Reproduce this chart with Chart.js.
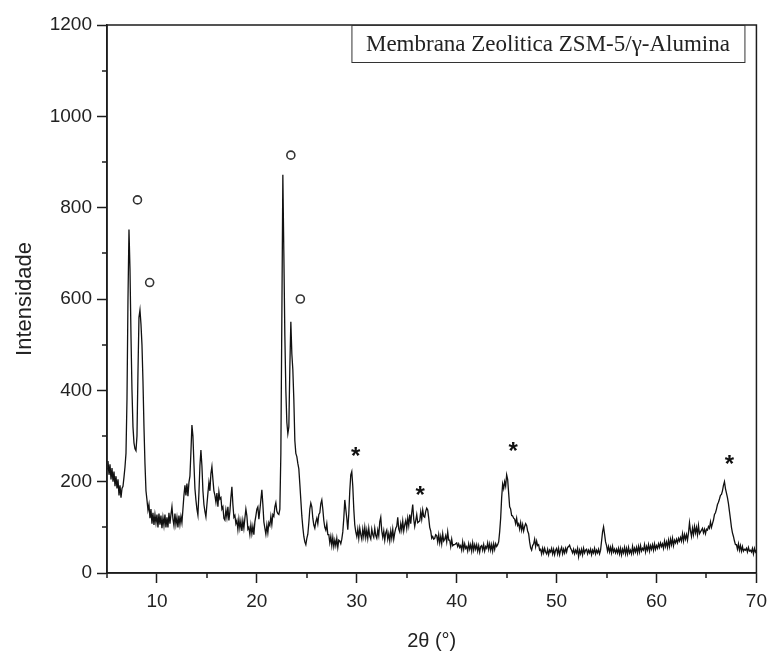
<!DOCTYPE html>
<html><head><meta charset="utf-8">
<script src="https://cdn.jsdelivr.net/npm/chart.js@4.4.1/dist/chart.umd.min.js"></script>
<style>html,body{margin:0;padding:0;background:#fff}#wrap{width:774px;height:658px}</style>
</head><body><div id="wrap"><canvas id="c" width="774" height="658"></canvas></div>
<script>
// 2θ sampling grid (degrees)
const thetaStart = 5.0;
const thetaStep = 0.1;
// Intensity, one row per degree (x.0 ... x.9)
const intensity = [
 228,245,215,238,205,230,200,222,190,212, // 5
 185,205,170,192,165,185,190,210,232,262, // 6
 380,600,752,665,520,400,320,285,272,268, // 7
 300,440,560,576,545,500,420,320,240,180, // 8
 160,138,150,120,140,108,132,105,128,110, // 9
 128,100,130,106,126,98,122,104,128,100,  // 10
 122,100,132,108,128,145,118,104,130,106, // 11
 122,100,126,106,124,110,140,170,192,170, // 12
 196,168,198,212,265,324,300,240,185,160, // 13
 140,127,175,235,269,235,180,150,135,123, // 14
 150,175,198,180,218,233,205,180,170,155, // 15
 175,145,178,162,165,140,145,120,116,138, // 16
 122,145,115,135,165,189,150,122,126,108, // 17
 115,95,118,98,114,92,115,98,120,140,     // 18
 125,96,100,84,105,86,102,84,112,125,     // 19
 140,145,118,138,160,182,150,112,98,85,   // 20
 105,88,110,104,124,106,128,124,145,154,  // 21
 135,130,128,140,260,560,872,700,520,400, // 22
 330,305,320,450,550,480,445,380,290,262, // 23
 255,240,228,195,160,125,100,80,68,62,    // 24
 76,85,110,140,153,145,120,105,98,112,    // 25
 120,108,128,132,152,160,140,115,100,94,  // 26
 108,84,84,66,80,60,78,58,72,60,          // 27
 76,56,72,70,64,74,90,120,160,140,        // 28
 120,95,130,180,215,222,190,140,105,90,   // 29
 80,96,76,98,84,74,96,80,100,78,          // 30
 94,76,98,80,74,96,84,78,98,82,           // 31
 76,94,82,112,122,92,78,92,72,88,         // 32
 94,74,86,70,92,76,96,74,88,98,           // 33
 102,122,96,90,108,94,114,92,106,115,     // 34
 98,120,104,128,108,132,150,118,102,115,  // 35
 128,110,112,114,134,118,138,124,122,135, // 36
 142,138,120,100,92,76,80,74,76,84,       // 37
 82,68,84,66,80,64,86,70,74,82,           // 38
 68,90,72,72,58,74,60,62,62,64,           // 39
 66,58,64,56,60,50,68,52,64,54,           // 40
 58,48,64,52,62,48,66,50,62,52,           // 41
 62,48,60,46,58,60,50,62,48,58,           // 42
 54,66,52,64,50,62,48,64,52,64,           // 43
 58,62,68,90,120,165,195,185,200,190,     // 44
 215,205,175,145,140,126,125,120,118,108, // 45
 120,104,108,96,110,94,106,92,102,108,    // 46
 104,92,86,68,55,50,60,64,74,58,          // 47
 70,60,62,50,52,42,54,44,54,46,           // 48
 42,52,40,50,46,54,42,52,40,50,           // 49
 54,42,54,40,50,56,42,52,44,54,           // 50
 46,56,58,61,54,50,44,52,42,50,           // 51
 44,54,36,50,42,52,40,54,44,50,           // 52
 52,42,50,44,52,40,50,44,54,42,           // 53
 50,44,52,42,50,70,90,101,85,68,          // 54
 60,48,58,46,56,44,58,46,52,44,           // 55
 52,44,54,42,54,40,52,44,56,42,           // 56
 54,42,56,44,50,42,58,44,54,46,           // 57
 56,44,58,46,60,48,54,50,62,46,           // 58
 58,50,62,48,60,52,62,50,64,52,           // 59
 60,54,64,56,66,58,64,54,70,58,           // 60
 68,56,72,58,74,62,76,60,72,66,           // 61
 74,66,76,70,78,70,86,70,84,74,           // 62
 84,72,88,110,92,80,98,84,102,88,         // 63
 100,84,104,86,90,94,98,88,96,86,         // 64
 96,94,102,98,112,100,108,116,128,132,    // 65
 140,150,155,162,170,172,180,192,200,185, // 66
 175,165,152,135,118,100,88,80,70,62,     // 67
 62,52,64,50,60,48,58,48,52,50,           // 68
 54,46,56,48,50,46,54,42,54,46,           // 69
 50                                       // 70
];
// ZSM-5 reflections (open circles)
const circleTheta = [8.05, 9.27, 23.4, 24.35];
const circleIntensity = [817, 636, 915, 600];
// gamma-alumina reflections (asterisks)
const starTheta = [29.9, 36.35, 45.65, 67.3];
const starIntensity = [269, 184, 279, 251];
// axis ticks
const xTickValues = [10, 20, 30, 40, 50, 60, 70];
const xMinorTicks = [5, 15, 25, 35, 45, 55, 65];
const yTickValues = [0, 200, 400, 600, 800, 1000, 1200];
const yMinorTicks = [100, 300, 500, 700, 900, 1100];
const legendText = 'Membrana Zeolitica ZSM-5/\u03B3-Alumina';
const xTitle = '2\u03B8 (\u00B0)';
const yTitle = 'Intensidade';

const pattern = intensity.map((v, i) => ({x: +(thetaStart + i * thetaStep).toFixed(2), y: v}));
const circles = circleTheta.map((t, i) => ({x: t, y: circleIntensity[i]}));

const INK = '#1c1c1c';
const SANS = '"Liberation Sans", Arial, sans-serif';

const decor = {
  id: 'decor',
  afterDraw(chart) {
    const {ctx, chartArea: ca, scales: {x, y}} = chart;
    ctx.save();
    ctx.strokeStyle = INK;
    ctx.lineWidth = 1.5;
    ctx.strokeRect(ca.left, ca.top, ca.right - ca.left, ca.bottom - ca.top);
    ctx.beginPath();
    yMinorTicks.forEach(v => { const p = Math.round(y.getPixelForValue(v)); ctx.moveTo(ca.left - 5, p); ctx.lineTo(ca.left, p); });
    xMinorTicks.forEach(v => { const p = Math.round(x.getPixelForValue(v)); ctx.moveTo(p, ca.bottom); ctx.lineTo(p, ca.bottom + 5); });
    ctx.stroke();
    // legend box
    const bx2 = ca.right - 12, bx1 = bx2 - 393, by1 = ca.top, by2 = ca.top + 37;
    ctx.lineWidth = 1;
    ctx.strokeStyle = '#333';
    ctx.strokeRect(bx1 + 0.5, by1 + 0.5, bx2 - bx1, by2 - by1);
    ctx.fillStyle = '#222';
    ctx.font = '23px "Liberation Serif", "Times New Roman", serif';
    ctx.textAlign = 'center';
    ctx.textBaseline = 'middle';
    ctx.fillText(legendText, (bx1 + bx2) / 2, (by1 + by2) / 2 + 1);
    // asterisks
    ctx.font = 'bold 24px ' + SANS;
    ctx.textBaseline = 'alphabetic';
    ctx.fillStyle = '#111';
    starTheta.forEach((t, i) => {
      ctx.fillText('*', x.getPixelForValue(t), y.getPixelForValue(starIntensity[i]) + 13.7);
    });
    ctx.restore();
  }
};

new Chart(document.getElementById('c'), {
  type: 'scatter',
  data: {
    datasets: [
      {type: 'line', data: pattern, showLine: true, borderColor: '#111', borderWidth: 1.3, pointRadius: 0, tension: 0, fill: false},
      {data: circles, pointRadius: 4, pointBorderWidth: 1.6, borderColor: '#333', backgroundColor: '#fff', pointStyle: 'circle'}
    ]
  },
  options: {
    responsive: false,
    animation: false,
    devicePixelRatio: 1,
    layout: {padding: {top: 25, right: 14, left: 0, bottom: 0}},
    plugins: {legend: {display: false}, tooltip: {enabled: false}},
    scales: {
      x: {
        type: 'linear', min: 5, max: 70,
        afterBuildTicks: s => { s.ticks = xTickValues.map(v => ({value: v})); },
        afterFit: s => { s.height = 85; },
        grid: {drawOnChartArea: false, tickLength: 10, tickColor: INK, tickWidth: 1.5},
        border: {display: true, color: INK, width: 1.5},
        ticks: {font: {family: SANS, size: 19}, color: '#222', padding: 7, maxRotation: 0, autoSkip: false, callback: v => String(v)},
        title: {display: true, text: xTitle, font: {family: SANS, size: 20}, color: '#222', padding: {top: 0, bottom: 5}}
      },
      y: {
        type: 'linear', min: 0, max: 1200,
        afterBuildTicks: s => { s.ticks = yTickValues.map(v => ({value: v})); },
        afterFit: s => { s.width = 107; },
        grid: {drawOnChartArea: false, tickLength: 10, tickColor: INK, tickWidth: 1.5},
        border: {display: true, color: INK, width: 1.5},
        ticks: {font: {family: SANS, size: 19}, color: '#222', padding: 5, autoSkip: false, callback: v => String(v)},
        title: {display: true, text: yTitle, font: {family: SANS, size: 22}, color: '#222', padding: {top: 12, bottom: 0}}
      }
    }
  },
  plugins: [decor]
});
</script>
</body></html>
